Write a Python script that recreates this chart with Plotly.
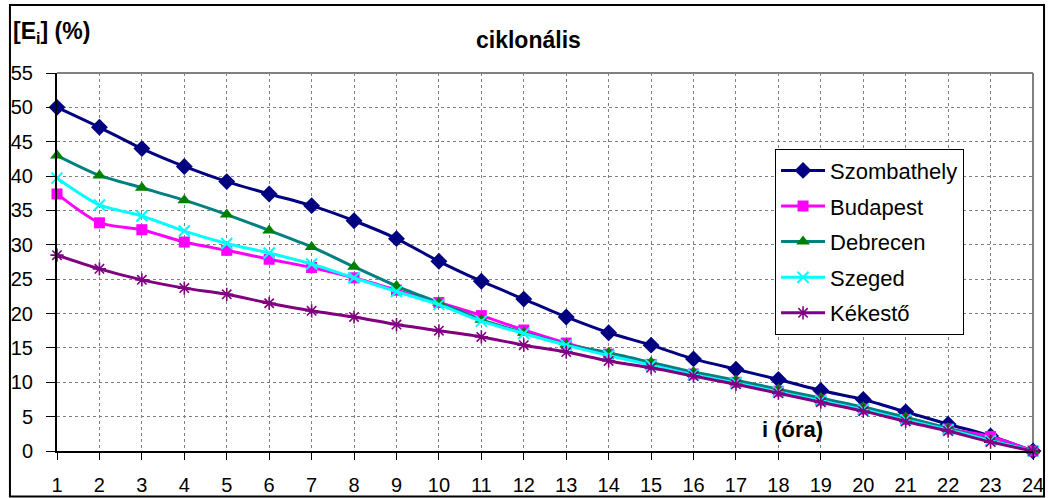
import plotly.graph_objects as go

# hours 1..24
hours = list(range(1, 25))

szombathely = [50.0, 47.1, 44.0, 41.4, 39.2, 37.4, 35.7, 33.5, 30.9, 27.6, 24.7, 22.1,
               19.5, 17.2, 15.4, 13.4, 11.9, 10.4, 8.8, 7.5, 5.7, 3.9, 2.2, 0.0]
budapest = [37.4, 33.2, 32.2, 30.4, 29.2, 27.9, 26.7, 25.2, 23.4, 21.6, 19.7, 17.6,
            15.7, 14.1, 12.6, 11.2, 10.0, 8.7, 7.4, 6.1, 4.6, 3.2, 2.1, 0.0]
debrecen = [43.0, 40.1, 38.3, 36.5, 34.4, 32.1, 29.7, 26.8, 24.0, 21.6, 19.1, 17.2,
            15.5, 14.3, 12.9, 11.5, 10.3, 9.0, 7.7, 6.4, 4.9, 3.3, 1.6, 0.0]
szeged = [39.7, 35.8, 34.2, 32.0, 30.2, 28.8, 27.2, 25.2, 23.2, 21.3, 18.9, 17.1,
          15.4, 13.9, 12.5, 11.1, 9.9, 8.6, 7.3, 6.0, 4.5, 3.1, 1.5, 0.0]
kekesto = [28.5, 26.5, 24.9, 23.7, 22.8, 21.5, 20.4, 19.5, 18.4, 17.5, 16.6, 15.4,
           14.4, 13.1, 12.1, 10.9, 9.7, 8.4, 7.1, 5.8, 4.3, 2.9, 1.3, 0.0]

y_ticks = list(range(0, 60, 5))

FONT = "Arial, Liberation Sans, sans-serif"

series = [
    ("Szombathely", szombathely, "#000080", dict(symbol="diamond", size=13, color="#000080")),
    ("Budapest", budapest, "#FF00FF", dict(symbol="square", size=11, color="#FF00FF")),
    ("Debrecen", debrecen, "#008080", dict(symbol="triangle-up", size=12, color="#008000")),
    ("Szeged", szeged, "#00FFFF", dict(symbol="x-thin-open", size=11, color="#00FFFF",
                                      line=dict(width=2, color="#00FFFF"))),
    ("Kékestő", kekesto, "#800080", dict(symbol="asterisk-open", size=11, color="#800080",
                                         line=dict(width=1.6, color="#800080"))),
]

fig = go.Figure()
for i, (name, vals, lcolor, marker) in enumerate(series):
    fig.add_trace(go.Scatter(
        x=hours, y=vals, name=name, mode="lines+markers",
        line=dict(color=lcolor, width=3, shape="spline", smoothing=0.7),
        marker=marker, legendgroup=f"g{i}", cliponaxis=False,
    ))

fig.update_layout(
    width=1048, height=498,
    margin=dict(l=57, r=15, t=73, b=47, autoexpand=False),
    paper_bgcolor="white", plot_bgcolor="white",
    font=dict(family=FONT, size=20, color="black"),
    showlegend=True,
    legend=dict(
        x=0.7357, y=0.80, xanchor="left", yanchor="top",
        bgcolor="white", bordercolor="black", borderwidth=1,
        font=dict(family=FONT, size=22, color="black"),
        tracegroupgap=4, itemwidth=44,
    ),
    xaxis=dict(
        range=[1, 24], tickmode="array", tickvals=hours, automargin=False,
        ticks="outside", ticklen=7, tickwidth=1, tickcolor="black",
        showline=True, linecolor="black", linewidth=2,
        showgrid=True, gridcolor="#808080", griddash="dot", gridwidth=1,
        zeroline=False, ticklabelstandoff=8,
    ),
    yaxis=dict(
        range=[0, 55], tickmode="array", tickvals=y_ticks, automargin=False,
        ticks="outside", ticklen=9, tickwidth=1, tickcolor="black",
        showline=True, linecolor="black", linewidth=2,
        showgrid=True, gridcolor="#808080", griddash="dot", gridwidth=1,
        zeroline=False, ticklabelstandoff=9,
    ),
    annotations=[
        dict(text="<b>[E<sub>i</sub>] (%)</b>", xref="paper", yref="paper",
             x=-0.047, y=1.106, xanchor="left", yanchor="middle", showarrow=False,
             font=dict(family=FONT, size=23, color="black")),
        dict(text="<b>ciklonális</b>", xref="paper", yref="paper",
             x=0.4826, y=1.087, xanchor="center", yanchor="middle", showarrow=False,
             font=dict(family=FONT, size=23, color="black")),
        dict(text="<b>i (óra)</b>", xref="paper", yref="paper",
             x=0.754, y=0.056, xanchor="center", yanchor="middle", showarrow=False,
             font=dict(family=FONT, size=22, color="black")),
    ],
    shapes=[
        # right and top edges of the plot area
        dict(type="line", xref="paper", yref="paper", x0=0, x1=1, y0=1, y1=1,
             line=dict(color="#808080", width=2), layer="below"),
        dict(type="line", xref="paper", yref="paper", x0=1, x1=1, y0=0, y1=1,
             line=dict(color="#808080", width=2), layer="below"),
        # outer chart frame
        dict(type="rect", xref="paper", yref="paper",
             x0=-0.0482, x1=1.0113, y0=-0.1204, y1=1.1799,
             line=dict(color="black", width=2)),
    ],
)

fig.write_html("out.html")
